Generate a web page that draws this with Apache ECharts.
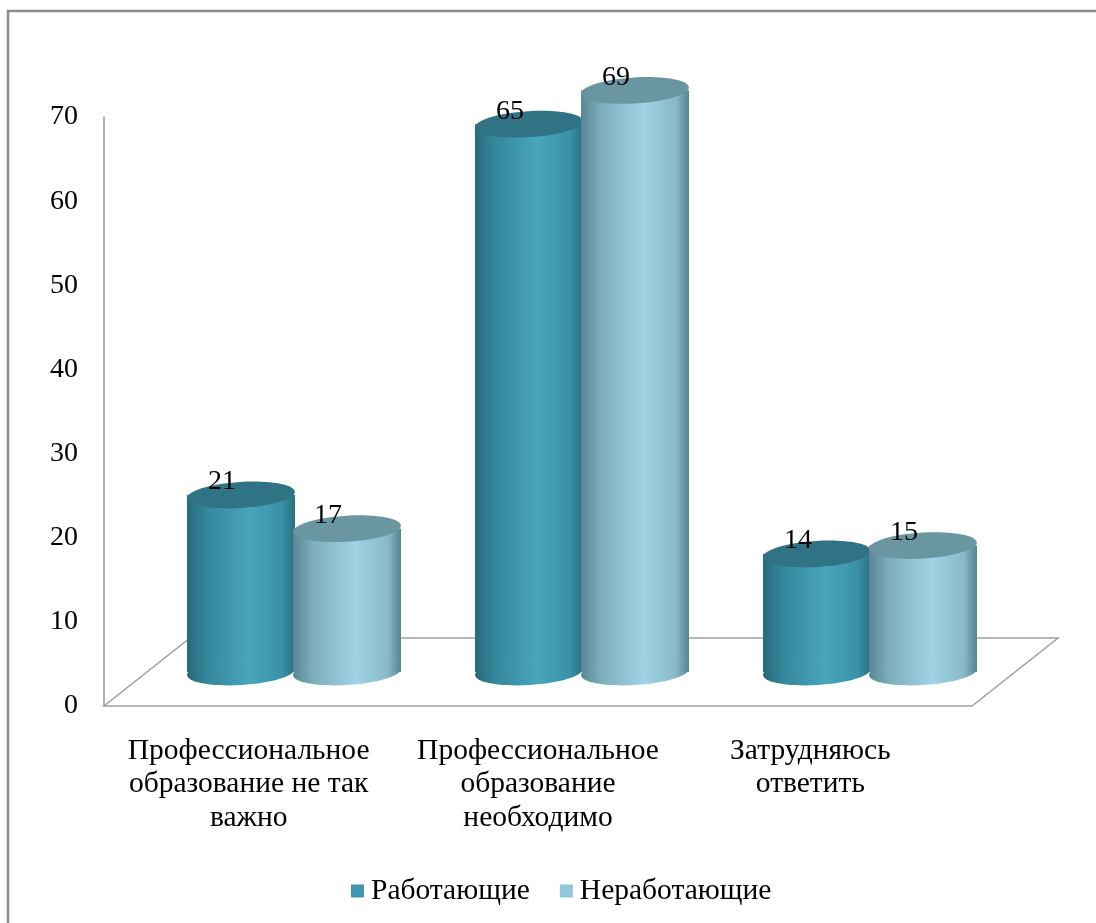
<!DOCTYPE html>
<html>
<head>
<meta charset="utf-8">
<script src="https://cdn.jsdelivr.net/npm/echarts@6/dist/echarts.min.js"></script>
<style>
  html, body { margin: 0; padding: 0; background: #fff; overflow: hidden; }
  #chart { width: 1096px; height: 923px; }
</style>
</head>
<body>
<div id="chart"></div>
<script>
const categories = [
  'Профессиональное\nобразование не так\nважно',
  'Профессиональное\nобразование\nнеобходимо',
  'Затрудняюсь\nответить'
]
const working = [21, 65, 14]
const notWorking = [17, 69, 15]
const yTicks = { min: 0, max: 70, interval: 10 }

const serif = 'Liberation Serif'

// cylinder colours: body gradient, top cap, legend
const darkColors = {
  body: [[0, '#286a7a'], [0.18, '#35879c'], [0.58, '#48a5bc'], [0.88, '#3a91a7'], [1, '#2b7081']],
  top: '#2f7384',
  legend: '#3f96ad'
}
const lightColors = {
  body: [[0, '#5b8694'], [0.2, '#7fb0c0'], [0.58, '#a2d3e4'], [0.88, '#88b9c9'], [1, '#5a828e']],
  top: '#6a96a2',
  legend: '#93c6d7'
}

const DEPTH_X = 86
const DEPTH_Y = -68

function cylinder(colors, offset) {
  return function (params, api) {
    const cat = api.value(0)
    const val = api.value(1)
    const top = api.coord([cat, val])
    const base = api.coord([cat, 0])
    const w = 108
    const rx = w / 2
    const ry = 13
    const cx = top[0] + offset
    const grad = new echarts.graphic.LinearGradient(0, 0, 1, 0,
      colors.body.map(s => ({ offset: s[0], color: s[1] })))
    return {
      type: 'group',
      children: [
        {
          type: 'rect',
          shape: { x: cx - rx, y: top[1], width: w, height: base[1] - top[1] },
          style: { fill: grad }
        },
        {
          type: 'ellipse',
          shape: { cx: cx, cy: base[1], rx: rx, ry: ry },
          rotation: 0.06,
          originX: cx, originY: base[1],
          style: { fill: grad }
        },
        {
          type: 'ellipse',
          shape: { cx: cx, cy: top[1], rx: rx, ry: ry },
          rotation: 0.06,
          originX: cx, originY: top[1],
          style: { fill: colors.top }
        },
        {
          type: 'text',
          style: {
            text: String(val),
            x: cx - 19,
            y: top[1] - 13,
            fill: '#000',
            font: '28px "Liberation Serif"',
            align: 'center',
            verticalAlign: 'middle'
          }
        }
      ]
    }
  }
}

const chart = echarts.init(document.getElementById('chart'))

const option = {
  backgroundColor: '#fff',
  animation: false,
  textStyle: { fontFamily: serif },
  graphic: [{
    type: 'polyline',
    shape: { points: [[8, 923], [8, 11], [1096, 11]] },
    style: { fill: 'none', stroke: '#8c8c8c', lineWidth: 2.5 },
    silent: true
  }],
  legend: {
    top: 871,
    left: 346,
    itemWidth: 13,
    itemHeight: 13,
    itemGap: 30,
    icon: 'rect',
    textStyle: { fontFamily: serif, fontSize: 29.5, color: '#000', padding: [0, 0, 0, 2] },
    data: ['Работающие', 'Неработающие']
  },
  grid: [
    { left: 104, right: 124, top: 117, bottom: 217 },
    { left: 150, right: 82, top: 82, bottom: 251 }
  ],
  xAxis: [
    {
      gridIndex: 0,
      type: 'category',
      data: categories.map((c, i) => i === 2 ? { value: c, textStyle: { padding: [0, 34, 0, 0] } } : c),
      axisLine: { show: false },
      axisTick: { show: false },
      axisLabel: {
        margin: 28,
        fontFamily: serif,
        fontSize: 29.5,
        lineHeight: 33.5,
        color: '#000',
        interval: 0
      }
    },
    { gridIndex: 1, type: 'category', data: categories, show: false }
  ],
  yAxis: [
    {
      gridIndex: 0,
      type: 'value',
      min: yTicks.min,
      max: yTicks.max,
      interval: yTicks.interval,
      splitLine: { show: false },
      axisTick: { show: false },
      axisLine: { show: true, lineStyle: { color: '#999', width: 1.5 } },
      axisLabel: { margin: 26, fontFamily: serif, fontSize: 28, color: '#000' }
    },
    { gridIndex: 1, type: 'value', min: yTicks.min, max: yTicks.max, show: false }
  ],
  series: [
    {
      // floor of the 3D plot area
      type: 'custom',
      xAxisIndex: 0,
      yAxisIndex: 0,
      z: 1,
      silent: true,
      data: [[0, 0]],
      renderItem: function (params) {
        const cs = params.coordSys
        const x0 = cs.x, y0 = cs.y + cs.height, x1 = cs.x + cs.width
        return {
          type: 'polygon',
          shape: {
            points: [[x0, y0], [x1, y0], [x1 + DEPTH_X, y0 + DEPTH_Y], [x0 + DEPTH_X, y0 + DEPTH_Y]]
          },
          style: { fill: 'none', stroke: '#a0a0a0', lineWidth: 1.5 }
        }
      }
    },
    {
      name: 'Работающие',
      type: 'custom',
      xAxisIndex: 1,
      yAxisIndex: 1,
      z: 2,
      clip: false,
      itemStyle: { color: darkColors.legend },
      data: working.map((v, i) => [i, v]),
      renderItem: cylinder(darkColors, -53)
    },
    {
      name: 'Неработающие',
      type: 'custom',
      xAxisIndex: 1,
      yAxisIndex: 1,
      z: 3,
      clip: false,
      itemStyle: { color: lightColors.legend },
      data: notWorking.map((v, i) => [i, v]),
      renderItem: cylinder(lightColors, 53)
    }
  ]
}

chart.setOption(option)
</script>
</body>
</html>
